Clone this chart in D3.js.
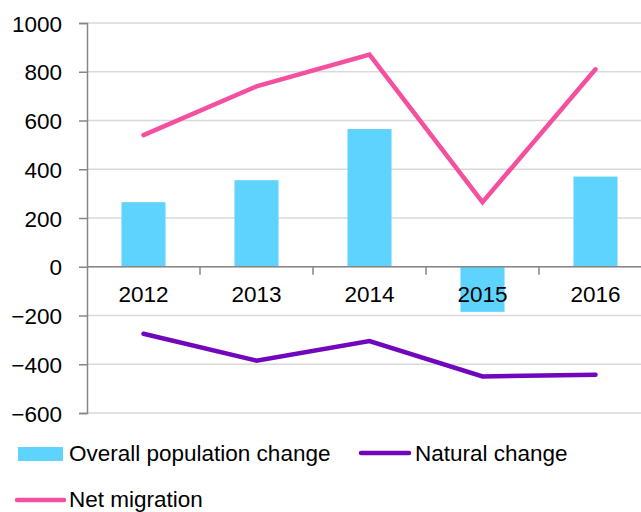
<!DOCTYPE html>
<html>
<head>
<meta charset="utf-8">
<script src="https://cdn.jsdelivr.net/npm/d3@7"></script>
<style>
  body { margin: 0; background: #fff; }
  svg { display: block; font-family: "Liberation Sans", Arial, sans-serif; }
</style>
</head>
<body>
<svg id="chart" width="641" height="512"></svg>
<script>
// data
var years = ["2012", "2013", "2014", "2015", "2016"];
var overall = [265, 355, 565, -185, 370];
var natural = [-275, -385, -305, -450, -443];
var migration = [540, 740, 870, 265, 810];
var yTicks = [-600, -400, -200, 0, 200, 400, 600, 800, 1000];

var svg = d3.select("#chart");
var fontSize = 22.5;

var x = d3.scaleBand().domain(years).range([87, 652]).padding(0);
var y = d3.scaleLinear().domain([-600, 1000]).range([413, 23]);

// gridlines
svg.append("g")
  .selectAll("line")
  .data(yTicks)
  .enter().append("line")
  .attr("x1", 87).attr("x2", 652)
  .attr("y1", function(d) { return y(d); })
  .attr("y2", function(d) { return y(d); })
  .attr("stroke", "#d9d9d9")
  .attr("stroke-width", 1.5);

// bars
var bw = x.bandwidth() * 0.39;
svg.append("g")
  .selectAll("rect")
  .data(overall)
  .enter().append("rect")
  .attr("x", function(d, i) { return x(years[i]) + x.bandwidth() / 2 - bw / 2; })
  .attr("width", bw)
  .attr("y", function(d) { return y(Math.max(0, d)); })
  .attr("height", function(d) { return Math.abs(y(d) - y(0)); })
  .attr("fill", "#5ed3fe");

// y axis
var yAxis = svg.append("g")
  .attr("transform", "translate(87,0)")
  .call(d3.axisLeft(y).tickValues(yTicks).tickSize(8).tickPadding(17).tickFormat(d3.format("d")));
yAxis.attr("font-size", fontSize).attr("font-family", null);
yAxis.select(".domain").attr("stroke", "#868686").attr("stroke-width", 1.5);
yAxis.selectAll(".tick line").attr("stroke", "#868686").attr("stroke-width", 1.5);
yAxis.selectAll(".tick text").attr("fill", "#000").attr("dy", "0.36em");

// x axis at zero
var xAxisG = svg.append("g").attr("transform", "translate(0," + y(0) + ")");
xAxisG.append("line")
  .attr("x1", 87).attr("x2", 652)
  .attr("stroke", "#868686").attr("stroke-width", 1.5);
xAxisG.selectAll(".sep")
  .data(years.slice(1))
  .enter().append("line")
  .attr("class", "sep")
  .attr("x1", function(d) { return x(d); })
  .attr("x2", function(d) { return x(d); })
  .attr("y1", 0).attr("y2", 8)
  .attr("stroke", "#868686").attr("stroke-width", 1.5);
xAxisG.selectAll("text")
  .data(years)
  .enter().append("text")
  .attr("x", function(d) { return x(d) + x.bandwidth() / 2; })
  .attr("y", 35)
  .attr("text-anchor", "middle")
  .attr("font-size", fontSize)
  .text(function(d) { return d; });

// lines
var line = d3.line()
  .x(function(d, i) { return x(years[i]) + x.bandwidth() / 2; })
  .y(function(d) { return y(d); });

svg.append("path")
  .datum(migration)
  .attr("d", line)
  .attr("fill", "none")
  .attr("stroke", "#f4509f")
  .attr("stroke-width", 4.5)
  .attr("stroke-linecap", "round");

svg.append("path")
  .datum(natural)
  .attr("d", line)
  .attr("fill", "none")
  .attr("stroke", "#7106bd")
  .attr("stroke-width", 4.5)
  .attr("stroke-linecap", "round");

// legend
var lg = svg.append("g").attr("font-size", fontSize);
lg.append("rect").attr("x", 18).attr("y", 447).attr("width", 45).attr("height", 14).attr("fill", "#5ed3fe");
lg.append("text").attr("x", 69).attr("y", 461).text("Overall population change");
lg.append("line").attr("x1", 361).attr("x2", 409).attr("y1", 453).attr("y2", 453)
  .attr("stroke", "#7106bd").attr("stroke-width", 4.5).attr("stroke-linecap", "round");
lg.append("text").attr("x", 415).attr("y", 461).text("Natural change");
lg.append("line").attr("x1", 17).attr("x2", 64).attr("y1", 500).attr("y2", 500)
  .attr("stroke", "#f4509f").attr("stroke-width", 4.5).attr("stroke-linecap", "round");
lg.append("text").attr("x", 69).attr("y", 507).text("Net migration");
</script>
</body>
</html>
